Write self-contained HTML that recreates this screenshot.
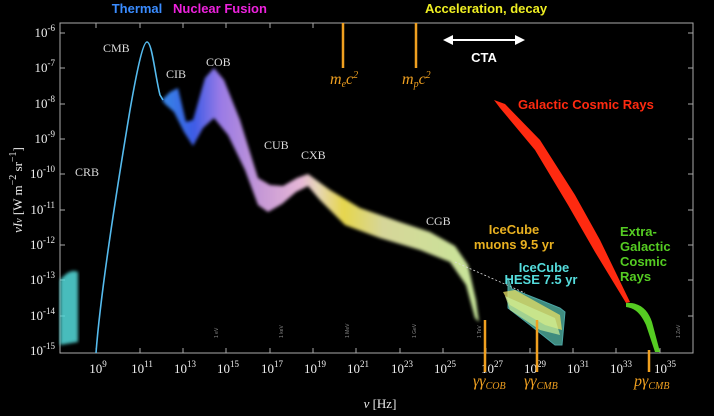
<!DOCTYPE html>
<html><head><style>
body{margin:0;background:#000;}
svg{display:block;}
.t{font-family:"Liberation Serif",serif;fill:#ddd;font-size:12px;}
.s{font-family:"Liberation Sans",sans-serif;font-weight:bold;font-size:13px;}
.tk{font-family:"Liberation Serif",serif;fill:#eee;font-size:13px;}
</style></head><body>
<svg width="714" height="416" viewBox="0 0 714 416" xmlns="http://www.w3.org/2000/svg">
<defs>
<linearGradient id="g1" x1="155" x2="480" y1="0" y2="0" gradientUnits="userSpaceOnUse">
<stop offset="0" stop-color="#3aa0ff"/><stop offset="0.12" stop-color="#4466ff"/>
<stop offset="0.2" stop-color="#aa88ff"/><stop offset="0.33" stop-color="#ddaaee"/>
<stop offset="0.45" stop-color="#ffccee"/><stop offset="0.5" stop-color="#ffeecc"/>
<stop offset="0.58" stop-color="#ffee55"/><stop offset="0.7" stop-color="#eeeeaa"/>
<stop offset="1" stop-color="#ddffaa"/></linearGradient>
<filter id="bl"><feGaussianBlur stdDeviation="1.5"/></filter>
</defs>
<rect width="714" height="416" fill="#000"/>
<rect x="60" y="23" width="633" height="330" fill="none" stroke="#aaa" stroke-width="1"/>
<g stroke="#aaa">
<line x1="60" y1="33" x2="65" y2="33"/><line x1="60" y1="68" x2="65" y2="68"/><line x1="60" y1="104" x2="65" y2="104"/>
<line x1="60" y1="139" x2="65" y2="139"/><line x1="60" y1="174" x2="65" y2="174"/><line x1="60" y1="210" x2="65" y2="210"/>
<line x1="60" y1="245" x2="65" y2="245"/><line x1="60" y1="280" x2="65" y2="280"/><line x1="60" y1="316" x2="65" y2="316"/>
<line x1="688" y1="33" x2="693" y2="33"/><line x1="688" y1="68" x2="693" y2="68"/><line x1="688" y1="104" x2="693" y2="104"/>
<line x1="688" y1="139" x2="693" y2="139"/><line x1="688" y1="174" x2="693" y2="174"/><line x1="688" y1="210" x2="693" y2="210"/>
<line x1="688" y1="245" x2="693" y2="245"/><line x1="688" y1="280" x2="693" y2="280"/><line x1="688" y1="316" x2="693" y2="316"/>
</g>
<g stroke="#aaa">
<line x1="96" y1="353" x2="96" y2="348"/><line x1="140" y1="353" x2="140" y2="348"/><line x1="183" y1="353" x2="183" y2="348"/>
<line x1="226" y1="353" x2="226" y2="348"/><line x1="270" y1="353" x2="270" y2="348"/><line x1="313" y1="353" x2="313" y2="348"/>
<line x1="356" y1="353" x2="356" y2="348"/><line x1="400" y1="353" x2="400" y2="348"/><line x1="443" y1="353" x2="443" y2="348"/>
<line x1="486" y1="353" x2="486" y2="348"/><line x1="530" y1="353" x2="530" y2="348"/><line x1="573" y1="353" x2="573" y2="348"/>
<line x1="616" y1="353" x2="616" y2="348"/><line x1="660" y1="353" x2="660" y2="348"/>
<line x1="96" y1="23" x2="96" y2="28"/><line x1="140" y1="23" x2="140" y2="28"/><line x1="183" y1="23" x2="183" y2="28"/>
<line x1="226" y1="23" x2="226" y2="28"/><line x1="270" y1="23" x2="270" y2="28"/><line x1="313" y1="23" x2="313" y2="28"/>
</g>
<g class="tk" text-anchor="end">
<text x="55" y="37">10<tspan dy="-6" font-size="9">-6</tspan></text>
<text x="55" y="72">10<tspan dy="-6" font-size="9">-7</tspan></text>
<text x="55" y="108">10<tspan dy="-6" font-size="9">-8</tspan></text>
<text x="55" y="143">10<tspan dy="-6" font-size="9">-9</tspan></text>
<text x="55" y="178">10<tspan dy="-6" font-size="9">-10</tspan></text>
<text x="55" y="214">10<tspan dy="-6" font-size="9">-11</tspan></text>
<text x="55" y="249">10<tspan dy="-6" font-size="9">-12</tspan></text>
<text x="55" y="284">10<tspan dy="-6" font-size="9">-13</tspan></text>
<text x="55" y="320">10<tspan dy="-6" font-size="9">-14</tspan></text>
<text x="55" y="355">10<tspan dy="-6" font-size="9">-15</tspan></text>
</g>
<g class="tk" text-anchor="middle">
<text x="98" y="373">10<tspan dy="-6" font-size="9">9</tspan></text>
<text x="142" y="373">10<tspan dy="-6" font-size="9">11</tspan></text>
<text x="185" y="373">10<tspan dy="-6" font-size="9">13</tspan></text>
<text x="228" y="373">10<tspan dy="-6" font-size="9">15</tspan></text>
<text x="272" y="373">10<tspan dy="-6" font-size="9">17</tspan></text>
<text x="315" y="373">10<tspan dy="-6" font-size="9">19</tspan></text>
<text x="358" y="373">10<tspan dy="-6" font-size="9">21</tspan></text>
<text x="402" y="373">10<tspan dy="-6" font-size="9">23</tspan></text>
<text x="445" y="373">10<tspan dy="-6" font-size="9">25</tspan></text>
<text x="492" y="373">10<tspan dy="-6" font-size="9">27</tspan></text>
<text x="535" y="373">10<tspan dy="-6" font-size="9">29</tspan></text>
<text x="578" y="373">10<tspan dy="-6" font-size="9">31</tspan></text>
<text x="621" y="373">10<tspan dy="-6" font-size="9">33</tspan></text>
<text x="665" y="373">10<tspan dy="-6" font-size="9">35</tspan></text>
</g>
<text x="380" y="408" class="tk" font-size="17" text-anchor="middle" font-style="italic">ν <tspan font-style="normal">[Hz]</tspan></text>
<text transform="translate(22,190) rotate(-90)" class="tk" font-size="16" text-anchor="middle"><tspan font-style="italic">νI</tspan><tspan font-size="10" font-style="italic">ν</tspan> [W m<tspan dy="-6" font-size="10">−2</tspan><tspan dy="6"> sr</tspan><tspan dy="-6" font-size="10">−1</tspan><tspan dy="6">]</tspan></text>
<g font-family="Liberation Sans" font-size="5" fill="#888">
<text transform="translate(218,338) rotate(-90)">1 eV</text>
<text transform="translate(283,338) rotate(-90)">1 keV</text>
<text transform="translate(349,338) rotate(-90)">1 MeV</text>
<text transform="translate(416,338) rotate(-90)">1 GeV</text>
<text transform="translate(481,338) rotate(-90)">1 TeV</text>
<text transform="translate(680,338) rotate(-90)">1 ZeV</text>
</g>
<path d="M60,280 Q70,268 78,272 L78,342 L60,345 Z" fill="#55dddd" opacity="0.85" filter="url(#bl)"/>
<path d="M96,353 C100,300 115,200 130,110 C137,70 143,42 147,42 C152,42 155,75 160,95 L163,100" fill="none" stroke="#55bbee" stroke-width="1.6"/>
<path d="M162,100 L170,92 L178,88 L186,122 L193,120 L205,78 L214,68 L224,80 L240,120 L258,178 L270,185 L283,186 L297,178 L308,174 L330,190 L360,208 L400,222 L430,232 L455,246 L468,265 L476,300 L479,322 L475,318 L466,285 L450,262 L420,250 L380,238 L345,225 L320,200 L308,186 L296,192 L282,204 L268,212 L258,205 L245,170 L228,135 L214,118 L203,128 L193,146 L184,132 L174,112 L165,104 Z" fill="url(#g1)" opacity="0.9" filter="url(#bl)"/>
<line x1="455" y1="262" x2="525" y2="293" stroke="#ddd" stroke-width="0.8" stroke-dasharray="2,2"/>
<path d="M508,278 L512,289 L540,300 L560,308 L565,312 L562,345 L555,345 L530,325 L508,308 Z" fill="#55bbaa" opacity="0.75" stroke="#66dddd" stroke-width="1"/>
<path d="M503,292 L515,290 L560,315 L562,330 L545,325 L510,305 Z" fill="#e8e066" opacity="0.75"/>
<path d="M505,296 L555,318 L560,335 L540,330 L510,310 Z" fill="#ccee99" opacity="0.7"/>
<path d="M494,100 L505,104 L540,140 L575,195 L600,240 L630,302 L626,303 L595,252 L568,205 L535,150 L500,108 Z" fill="#ff2a10"/>
<path d="M626,303 C640,302 648,310 652,322 L660,352 L655,352 L646,325 C640,312 634,308 626,307 Z" fill="#55cc22"/>
<g stroke="#f0a020" stroke-width="2.5">
<line x1="343" y1="23" x2="343" y2="68"/><line x1="416" y1="23" x2="416" y2="68"/>
<line x1="485" y1="320" x2="485" y2="372"/><line x1="537" y1="320" x2="537" y2="372"/>
<line x1="649" y1="350" x2="649" y2="372"/>
</g>
<g font-family="Liberation Serif" font-style="italic" fill="#f0a020" font-size="16">
<text x="330" y="84">m<tspan font-size="10" dy="3">e</tspan><tspan dy="-3">c</tspan><tspan font-size="10" dy="-6">2</tspan></text>
<text x="402" y="84">m<tspan font-size="10" dy="3">p</tspan><tspan dy="-3">c</tspan><tspan font-size="10" dy="-6">2</tspan></text>
<text x="473" y="386">γγ<tspan font-size="10" dy="3">COB</tspan></text>
<text x="524" y="386">γγ<tspan font-size="10" dy="3">CMB</tspan></text>
<text x="634" y="386">pγ<tspan font-size="10" dy="3">CMB</tspan></text>
</g>
<line x1="450" y1="40" x2="518" y2="40" stroke="#fff" stroke-width="2"/>
<path d="M443,40 L453,35 L453,45 Z M525,40 L515,35 L515,45 Z" fill="#fff"/>
<text x="484" y="62" class="s" fill="#fff" font-size="14" text-anchor="middle">CTA</text>
<g class="t" font-size="13">
<text x="103" y="52">CMB</text><text x="166" y="78">CIB</text><text x="206" y="66">COB</text>
<text x="264" y="149">CUB</text><text x="301" y="159">CXB</text><text x="75" y="176">CRB</text>
<text x="426" y="225">CGB</text>
</g>
<text x="137" y="13" class="s" fill="#3a8cff" text-anchor="middle">Thermal</text>
<text x="220" y="13" class="s" fill="#ee22dd" text-anchor="middle">Nuclear Fusion</text>
<text x="486" y="13" class="s" fill="#eeee22" text-anchor="middle">Acceleration,  decay</text>
<text x="518" y="109" class="s" fill="#ff2a10" font-size="12">Galactic Cosmic Rays</text>
<g class="s" fill="#e8b020" font-size="12" text-anchor="middle">
<text x="514" y="234">IceCube</text><text x="514" y="249">muons  9.5 yr</text></g>
<g class="s" fill="#55dddd" font-size="11" text-anchor="middle">
<text x="544" y="272">IceCube</text><text x="541" y="284">HESE 7.5 yr</text></g>
<g class="s" fill="#55cc22" font-size="12">
<text x="620" y="236">Extra-</text><text x="620" y="251">Galactic</text><text x="620" y="266">Cosmic</text><text x="620" y="281">Rays</text></g>
</svg>
</body></html>
